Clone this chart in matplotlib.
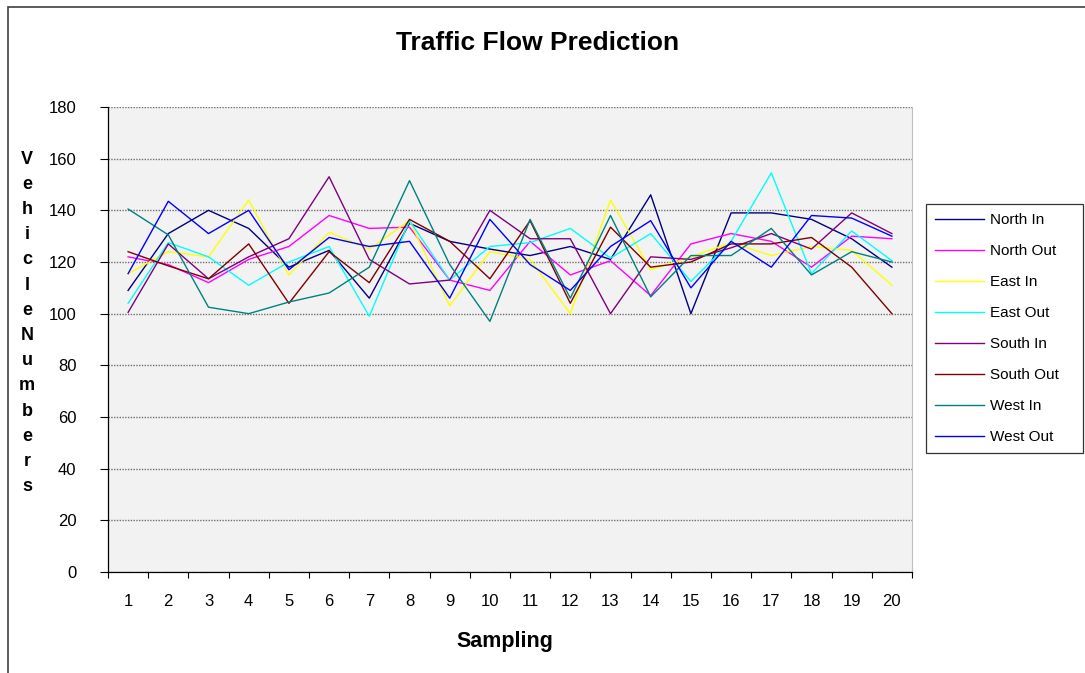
import matplotlib
matplotlib.use("Agg")
import matplotlib.pyplot as plt
from matplotlib.patches import Rectangle

plt.rcParams['font.family'] = ['Liberation Sans', 'DejaVu Sans']

samples = list(range(1, 21))
north_in = [109, 131, 140, 133, 118, 124.5, 106, 135, 128, 125, 122.5, 126, 121, 146, 100, 139, 139, 136.5, 129, 118]
north_out = [122, 119, 112, 121, 126, 138, 133, 133.5, 113, 109, 128, 115, 120.5, 107, 127, 131, 128, 118, 130, 129]
east_in = [115.5, 124, 122, 144, 115, 131.5, 125, 136, 103, 124, 121, 100, 144, 117, 122, 127.5, 122.5, 126, 124.5, 111]
east_out = [104, 127.5, 122, 111, 120, 126, 99, 136, 113, 126, 127.5, 133, 121.5, 131, 112.5, 128, 154.5, 115.5, 132, 120.5]
south_in = [100.5, 127, 113.5, 122, 129, 153, 121, 111.5, 113, 140, 129, 129, 100, 122, 121, 125.5, 131, 125, 139, 131]
south_out = [124, 118.5, 113.5, 127, 104, 124, 112, 136.5, 128, 113.5, 136, 104, 133.5, 118, 120, 127, 127, 129.5, 118, 100]
west_in = [140.5, 130.5, 102.5, 100, 104.5, 108, 118, 151.5, 119, 97, 136.5, 106, 138, 106.5, 122.5, 122.5, 133, 115, 124, 120]
west_out = [115.5, 143.5, 131, 140, 117, 129.5, 126, 128, 106, 136.5, 119, 109, 126, 136, 110, 128, 118, 138, 137, 130]

series_names = ["North In", "North Out", "East In", "East Out",
                "South In", "South Out", "West In", "West Out"]
series_values = [north_in, north_out, east_in, east_out,
                 south_in, south_out, west_in, west_out]
series_colors = ["#000080", "#FF00FF", "#FFFF00", "#00FFFF",
                 "#800080", "#800000", "#008080", "#0000FF"]
y_ticks = list(range(0, 181, 20))

W, H = 1085, 673
fig = plt.figure(figsize=(W / 100, H / 100), dpi=100)
fig.patch.set_facecolor("white")

# chart border (extends past right/bottom edges)
fig.patches.append(Rectangle((8 / W, -0.1), 1.2, (1 - 7 / H) + 0.1,
                             transform=fig.transFigure, fill=False,
                             edgecolor="#404040", lw=1.2))

ax = fig.add_axes([108 / W, 1 - 572 / H, (912 - 108) / W, (572 - 107) / H])
ax.set_facecolor("#F2F2F2")

for name, vals, col in zip(series_names, series_values, series_colors):
    ax.plot(samples, vals, color=col, lw=1.0, label=name)

ax.set_xlim(0.5, 20.5)
ax.set_ylim(0, 180)
ax.set_yticks(y_ticks)
ax.set_xticks(samples)
ax.set_xticks([s - 0.5 for s in samples] + [20.5], minor=True)
ax.yaxis.grid(True, color="#707070", lw=1.0, linestyle=(0, (1, 1)))
ax.set_axisbelow(True)
ax.tick_params(axis="y", direction="out", length=5.8, width=0.8,
               labelsize=12, pad=17, color="black")
ax.tick_params(axis="x", which="major", length=0, labelsize=12, pad=16)
ax.tick_params(axis="x", which="minor", direction="out", length=4.3, width=0.8)
ax.spines["top"].set_visible(False)
ax.spines["right"].set_color("#C0C0C0")
ax.spines["left"].set_color("black")
ax.spines["bottom"].set_color("black")
ax.spines["left"].set_linewidth(0.9)
ax.spines["bottom"].set_linewidth(0.9)

fig.text(538 / W, 1 - 43 / H, "Traffic Flow Prediction", ha="center",
         va="center", fontsize=19, fontweight="bold")
fig.text(505 / W, 1 - 641 / H, "Sampling", ha="center", va="center",
         fontsize=15.5, fontweight="bold")

ylabel = "VehicleNumbers"
top_y, step = 159, 25.2
for i, ch in enumerate(ylabel):
    fig.text(27 / W, 1 - (top_y + i * step) / H, ch, ha="center",
             va="center", fontsize=13, fontweight="bold")

leg = ax.legend(loc="upper left",
                bbox_to_anchor=(926 / W, 1 - 462 / H, (1083 - 926) / W, (462 - 204) / H),
                bbox_transform=fig.transFigure, mode="expand",
                frameon=True, fancybox=False, edgecolor="black",
                fontsize=11, handlelength=3.2, handletextpad=0.4,
                labelspacing=1.11, borderpad=0.6, borderaxespad=0)
leg.get_frame().set_linewidth(0.9)

fig.savefig("out.png", dpi=100, facecolor="white")
